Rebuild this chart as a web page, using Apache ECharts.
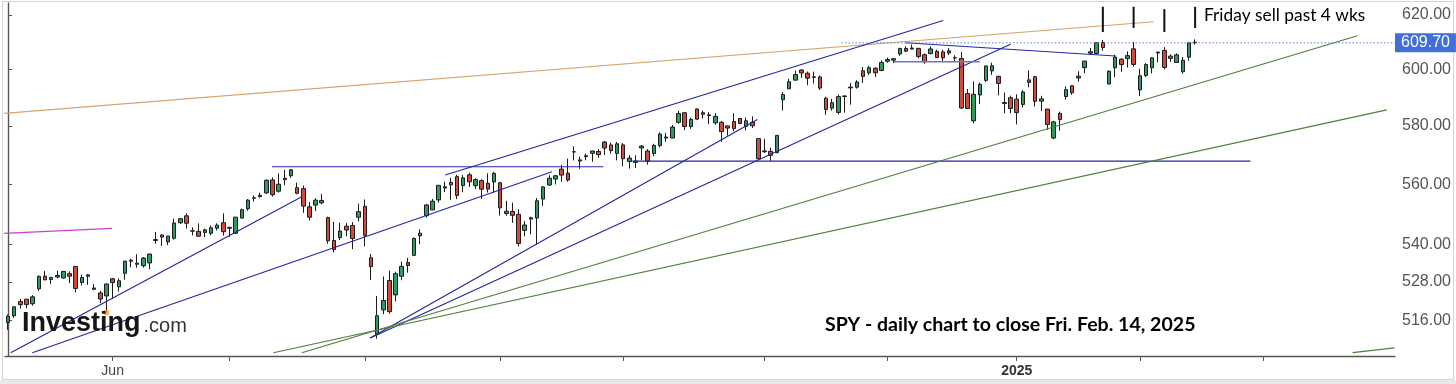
<!DOCTYPE html>
<html><head><meta charset="utf-8">
<script src="https://cdn.jsdelivr.net/npm/echarts@6/dist/echarts.min.js"></script>
<style>html,body{margin:0;padding:0;background:#fff}#c{width:1456px;height:384px}</style>
</head><body><div id="c"></div>
<script>
// ---------- categories (trading days) ----------
const tradeDays = [
 ['2024-05',[8,9,10,13,14,15,16,17,20,21,22,23,24,28,29,30,31]],
 ['2024-06',[3,4,5,6,7,10,11,12,13,14,17,18,20,21,24,25,26,27,28]],
 ['2024-07',[1,2,3,5,8,9,10,11,12,15,16,17,18,19,22,23,24,25,26,29,30,31]],
 ['2024-08',[1,2,5,6,7,8,9,12,13,14,15,16,19,20,21,22,23,26,27,28,29,30]],
 ['2024-09',[3,4,5,6,9,10,11,12,13,16,17,18,19,20,23,24,25,26,27,30]],
 ['2024-10',[1,2,3,4,7,8,9,10,11,14,15,16,17,18,21,22,23,24,25,28,29,30,31]],
 ['2024-11',[1,4,5,6,7,8,11,12,13,14,15,18,19,20,21,22,25,26,27,29]],
 ['2024-12',[2,3,4,5,6,9,10,11,12,13,16,17,18,19,20,23,24,26,27,30,31]],
 ['2025-01',[2,3,6,7,8,10,13,14,15,16,17,21,22,23,24,27,28,29,30,31]],
 ['2025-02',[3,4,5,6,7,10,11,12,13,14]]
];
const futureDays = [
 ['2025-02',[17,18,19,20,21,24,25,26,27,28]],
 ['2025-03',[3,4,5,6,7,10,11,12,13,14,17,18,19,20,21,24,25,26,27,28,31]],
 ['2025-04',[1]]
];
// ---------- OHLC  [open, high, low, close] ----------
const may24 = [[515.26,517.74,513.02,517.19],[517.38,520.21,516.71,520.17],[521.81,522.64,519.59,520.84],[522.56,522.67,519.74,520.91],[521.11,523.83,520.56,523.30],[525.83,530.08,525.18,529.78],[529.88,531.52,528.54,528.69],[528.81,529.52,527.32,529.45],[529.57,531.56,529.17,530.06],[529.28,531.52,529.07,531.36],[530.65,531.38,527.60,529.83],[532.96,533.07,524.72,525.96],[527.85,530.27,526.88,529.44],[530.27,530.51,527.11,529.81],[525.68,527.31,525.37,526.10],[524.52,525.20,521.33,522.61],[523.59,527.50,518.36,527.37]];
const jun24 = [[529.02,529.31,522.60,527.80],[526.46,529.15,524.96,528.39],[530.77,534.69,528.73,534.67],[534.98,535.42,532.68,534.66],[533.66,536.89,532.54,534.01],[533.18,535.99,532.57,535.66],[534.07,537.01,532.05,536.95],[541.63,544.12,540.30,541.36],[543.15,543.33,539.59,542.45],[540.88,542.81,539.85,542.78],[542.08,548.53,541.61,547.10],[547.16,548.62,546.73,548.49],[549.44,550.28,545.23,547.00],[544.40,545.65,543.02,544.51],[544.33,546.95,542.62,542.74],[543.99,545.20,542.44,544.83],[543.69,546.24,543.03,545.51],[545.37,546.96,544.61,546.37],[547.16,550.28,542.95,544.22]];
const jul24 = [[545.63,545.88,542.52,545.34],[543.70,549.01,543.65,549.01],[548.69,551.83,548.65,551.46],[551.77,555.05,551.12,554.64],[555.44,556.25,554.19,555.28],[556.26,557.18,555.52,555.82],[557.07,561.67,556.77,561.32],[561.44,562.33,555.83,556.48],[557.63,563.67,557.15,559.99],[562.03,564.84,559.63,561.53],[562.87,565.16,562.10,564.86],[558.80,560.51,556.61,556.94],[558.51,559.52,550.43,552.66],[552.42,554.08,547.91,548.99],[553.00,555.27,551.02,554.65],[554.54,556.74,553.28,553.78],[548.86,549.17,540.29,541.23],[541.35,547.46,537.45,538.41],[542.28,547.19,541.49,544.44],[546.02,547.05,542.72,544.76],[546.26,547.34,538.52,542.00],[548.98,553.50,547.58,550.81]];
const aug24 = [[552.57,554.87,539.43,543.01],[535.75,536.99,528.60,532.90],[511.64,523.58,510.27,517.38],[519.22,529.75,517.87,522.15],[528.47,531.59,518.05,518.66],[523.91,531.29,521.84,530.65],[529.81,534.51,528.56,532.99],[534.21,535.73,530.95,533.27],[536.53,542.28,536.28,542.04],[542.85,544.96,540.12,543.75],[549.50,553.36,548.88,553.07],[551.42,555.02,551.26,554.31],[554.73,559.61,553.86,559.61],[559.15,560.84,557.33,558.70],[559.77,562.11,554.73,560.62],[562.56,563.18,554.98,556.22],[559.53,563.09,557.29,562.13],[563.18,563.91,559.05,560.79],[559.49,562.06,558.32,561.56],[561.21,561.65,555.04,558.30],[560.31,563.68,557.18,558.35],[560.77,564.20,557.14,563.68]];
const sep24 = [[560.47,560.81,549.51,552.08],[550.20,554.43,549.46,550.95],[550.89,553.80,547.10,549.61],[549.94,551.60,539.44,540.36],[544.65,547.71,542.68,546.41],[548.36,549.15,543.38,548.79],[548.70,555.36,539.96,554.42],[555.01,559.40,552.74,559.09],[559.71,563.03,559.45,562.01],[561.74,563.11,559.90,562.84],[565.10,566.58,560.79,563.07],[563.74,568.69,560.83,561.40],[571.01,572.88,568.08,570.98],[567.84,569.31,565.17,568.25],[569.34,570.33,568.10,569.67],[570.48,571.36,567.60,571.30],[571.14,571.89,568.91,570.04],[574.38,574.71,569.90,572.30],[573.39,574.22,570.42,571.47],[570.42,574.38,568.08,573.76]];
const oct24 = [[573.40,574.06,566.00,568.62],[567.71,569.90,565.27,568.86],[567.36,569.80,565.49,567.82],[572.35,573.36,568.10,572.98],[571.30,571.96,566.63,567.80],[570.42,573.78,569.53,573.17],[573.16,577.71,572.55,577.14],[575.77,577.58,574.49,576.13],[575.77,580.33,575.91,579.58],[581.22,585.27,580.73,584.32],[584.59,584.90,578.54,579.78],[579.78,582.83,578.96,582.30],[585.91,586.12,582.16,582.35],[584.07,585.39,582.58,584.59],[583.85,584.85,580.60,583.63],[581.05,584.50,580.38,583.32],[581.26,581.71,574.42,577.99],[579.98,580.06,576.57,579.24],[581.51,584.46,578.08,579.04],[582.58,582.71,580.52,580.83],[579.85,582.91,578.43,581.77],[581.29,583.32,579.29,580.01],[575.56,575.63,568.44,568.64]];
const nov24 = [[571.32,575.55,570.62,571.04],[571.18,572.50,567.89,569.81],[570.74,576.74,570.52,576.70],[589.20,591.93,585.39,591.04],[593.08,596.65,593.00,595.61],[596.17,599.64,596.16,598.19],[599.81,600.17,597.00,598.76],[598.68,599.29,594.37,596.90],[597.37,599.23,594.96,597.19],[597.32,597.81,592.65,593.35],[589.72,590.20,583.86,585.75],[586.22,589.49,585.34,588.15],[584.71,591.04,584.03,590.30],[590.38,590.79,584.63,590.50],[593.40,595.12,587.45,593.67],[593.66,596.15,593.15,595.51],[599.52,600.86,595.20,597.53],[598.80,601.33,598.07,600.65],[600.46,600.85,597.28,598.83],[599.66,603.35,599.38,602.55]];
const dec24 = [[602.97,604.32,602.47,603.63],[603.39,604.16,602.34,603.91],[605.63,607.91,604.95,607.66],[607.66,608.48,606.30,606.66],[607.44,609.07,607.36,607.81],[607.69,607.86,604.08,604.68],[605.37,605.80,602.13,602.80],[605.78,608.43,605.50,607.46],[606.58,607.16,604.33,604.33],[606.40,607.16,602.94,604.21],[606.00,607.78,605.21,606.79],[604.19,605.17,602.89,604.29],[604.00,606.41,585.89,586.28],[591.36,593.00,585.85,586.10],[581.77,595.75,580.91,591.15],[590.89,595.30,587.66,594.69],[596.06,601.34,595.47,601.30],[599.50,602.48,598.08,601.34],[597.54,597.78,590.76,595.01],[587.89,591.74,584.41,588.22],[589.91,590.64,584.42,586.08]];
const jan25 = [[589.39,591.13,580.50,584.64],[587.53,592.60,586.43,591.95],[596.27,599.70,593.60,595.36],[597.42,597.75,586.78,588.63],[588.70,590.58,585.20,589.49],[585.88,585.95,578.55,580.49],[575.77,581.75,575.35,581.39],[584.36,585.00,578.35,582.19],[590.33,593.94,589.20,592.78],[594.17,594.35,590.93,591.64],[596.96,599.36,595.61,597.58],[600.67,603.06,598.67,603.05],[605.92,607.82,605.36,606.44],[605.80,609.75,605.52,609.75],[609.81,610.78,606.80,607.97],[594.81,599.69,594.64,599.37],[600.62,605.37,597.25,604.52],[603.72,604.13,599.22,601.81],[603.96,606.60,600.72,605.04],[607.50,609.96,601.05,601.82]];
const feb25 = [[592.67,600.29,590.49,597.77],[597.83,602.30,597.28,601.78],[600.64,604.37,598.58,604.22],[605.99,606.45,602.63,606.32],[606.89,608.13,600.05,600.77],[604.03,605.50,602.74,604.85],[602.55,605.86,602.43,605.31],[599.20,604.55,598.51,603.36],[604.48,609.94,603.20,609.73],[609.94,610.99,609.07,609.70]];

// ---------- axis ticks / labels ----------
const yTicks = [516, 528, 540, 560, 580, 600, 620];
const xTickDates = ['2024-06-03','2024-07-01','2024-08-01','2024-09-03','2024-10-01','2024-11-01','2024-12-02','2025-01-02','2025-02-03','2025-03-03'];
const xLabels = {'2024-06-03':'Jun','2025-01-02':'2025'};
const lastPrice = 609.70;

// ---------- drawn lines: [[bar index, price], [bar index, price]] ----------
const orangeLine = [[-0.67,584.4],[186.25,617.5]];
const magentaLine = [[-0.67,543.7],[16.9,545.3]];
const blueLines = [
 [[0.42,506.0],[47.76,555.8]],
 [[3.94,506.0],[88.43,564.2]],
 [[71.08,563.1],[152.04,617.95]],
 [[58.87,510.5],[121.83,582.2]],
 [[58.87,510.5],[162.99,609.2]],
 [[145.9,609.75],[180.07,604.9]],
 [[42.93,565.9],[96.78,565.9]],
 [[101.5,567.8],[202.0,567.8]]
];
const lightBlueLine = [[144.0,602.8],[158.0,602.8]];
const greenLines = [
 [[47.76,506.0],[219.39,612.3]],
 [[43.14,506.0],[224.16,585.6]],
 [[218.6,506.0],[225.43,507.5]]
];
const fridayMarks = [[178,623.1,613.7],[183,623.1,615.2],[188,622.2,613.7],[193,623.1,615.2]];
const lastLineStart = 135.5;
const highlightLow = [16, 518.36];

// ---------- build ----------
const pad = n => String(n).padStart(2,'0');
const dates = [];
tradeDays.forEach(([m, ds]) => ds.forEach(d => dates.push(m + '-' + pad(d))));
const future = [];
futureDays.forEach(([m, ds]) => ds.forEach(d => future.push(m + '-' + pad(d))));
const categories = dates.concat(future);
const ohlc = [].concat(may24, jun24, jul24, aug24, sep24, oct24, nov24, dec24, jan25, feb25);
const candleData = ohlc.map(r => [r[0], r[3], r[2], r[1]]);
const nCat = categories.length;
const tickSet = new Set(xTickDates);

const lineSeries = (data, color, width, extra) => Object.assign({
  type: 'line', xAxisIndex: 1, yAxisIndex: 0, data: data, symbol: 'none',
  clip: true, silent: true, z: 4, animation: false,
  lineStyle: { color: color, width: width }
}, extra || {});

const series = [{
  type: 'candlestick', xAxisIndex: 0, yAxisIndex: 0, data: candleData,
  barWidth: 4, z: 3, silent: true, animation: false,
  itemStyle: { color: '#2f9a5e', color0: '#d0493c', borderColor: '#1c1c1c', borderColor0: '#1c1c1c', borderWidth: 1 }
}];
series.push(lineSeries(orangeLine, '#d9a36c', 1.2));
series.push(lineSeries(magentaLine, '#d23cd2', 1.2));
blueLines.forEach(l => series.push(lineSeries(l, '#2626a0', 1.2)));
series.push(lineSeries(lightBlueLine, '#7474bd', 1.6));
greenLines.forEach(l => series.push(lineSeries(l, '#4f7f3c', 1.2)));
fridayMarks.forEach(m => series.push(lineSeries([[m[0], m[1]], [m[0], m[2]]], '#111', 2)));
series.push(lineSeries([[lastLineStart, lastPrice], [nCat - 0.5, lastPrice]], '#5c7fd0', 1, {
  lineStyle: { color: '#5c7fd0', width: 1, type: [1.5, 2] },
  endLabel: { show: true, formatter: () => lastPrice.toFixed(2), backgroundColor: '#3f6fd9', color: '#fff',
    fontSize: 16, fontFamily: 'Liberation Sans, Arial', padding: [2, 6, 1, 6], distance: 0 }
}));
series.push({
  type: 'scatter', xAxisIndex: 1, yAxisIndex: 0, data: [highlightLow], symbol: 'rect', symbolSize: 5,
  itemStyle: { color: '#f2a535' }, z: 5, silent: true, animation: false
});

const chart = echarts.init(document.getElementById('c'), null, { renderer: 'canvas' });
chart.setOption({
  animation: false,
  backgroundColor: '#fff',
  grid: { left: 5, right: 61, top: 3, bottom: 28, containLabel: false, outerBoundsMode: 'none' },
  xAxis: [{
    type: 'category', data: categories, boundaryGap: true, gridIndex: 0,
    axisLine: { show: true, lineStyle: { color: '#555', width: 1.4 } },
    axisTick: { show: true, alignWithLabel: true, length: 5, interval: (i, v) => tickSet.has(v), lineStyle: { color: '#555' } },
    axisLabel: {
      interval: (i, v) => xLabels[v] !== undefined, margin: 8,
      formatter: v => v === '2025-01-02' ? '{b|' + xLabels[v] + '}' : (xLabels[v] || ''),
      color: '#444', fontSize: 14, fontFamily: 'Liberation Sans, Arial',
      rich: { b: { fontWeight: 'bold', color: '#333', fontSize: 14, fontFamily: 'Liberation Sans, Arial' } }
    },
    splitLine: { show: false }
  }, {
    type: 'value', min: -0.5, max: nCat - 0.5, gridIndex: 0, show: false
  }],
  yAxis: [{
    type: 'log', logBase: 10, min: 505, max: 624.5, position: 'right',
    axisLine: { show: true, lineStyle: { color: '#555', width: 1.4 } },
    axisTick: { show: true, length: 4, customValues: yTicks, lineStyle: { color: '#555' } },
    axisLabel: { customValues: yTicks, formatter: v => Number(v).toFixed(2), color: '#555', fontSize: 16,
      fontFamily: 'Liberation Sans, Arial', margin: 7 },
    splitLine: { show: false }
  }],
  series: series,
  graphic: [
    { type: 'rect', shape: { x: 2.5, y: 1.5, width: 1451, height: 378 }, style: { fill: 'none', stroke: '#d4d4d4', lineWidth: 1 }, z: -1, silent: true },
    { type: 'rect', shape: { x: 0, y: 380, width: 1456, height: 4 }, style: { fill: '#e9e9e9' }, z: -1, silent: true },
    { type: 'text', x: 22, y: 323.6, z: 10, silent: true,
      style: { text: 'Investing', fill: '#161616', font: 'bold 27px "Liberation Sans", Arial', textAlign: 'left', align: 'left', textVerticalAlign: 'middle', verticalAlign: 'middle' } },
    { type: 'text', x: 143.5, y: 326, z: 10, silent: true,
      style: { text: '.com', fill: '#333', font: '20px "Liberation Sans", Arial', textAlign: 'left', align: 'left', textVerticalAlign: 'middle', verticalAlign: 'middle' } },
    { type: 'text', x: 825, y: 325.1, scaleX: 1.057, z: 10, silent: true,
      style: { text: 'SPY - daily chart to close Fri. Feb. 14, 2025', fill: '#000', font: 'bold 18.5px Lato, "Open Sans", sans-serif', textAlign: 'left', align: 'left', textVerticalAlign: 'middle', verticalAlign: 'middle' } },
    { type: 'text', x: 1204, y: 15.5, scaleX: 1.02, z: 10, silent: true,
      style: { text: 'Friday sell past 4 wks', fill: '#000', font: '17px Lato, "Open Sans", sans-serif', textAlign: 'left', align: 'left', textVerticalAlign: 'middle', verticalAlign: 'middle' } }
  ]
});
</script>
</body></html>
